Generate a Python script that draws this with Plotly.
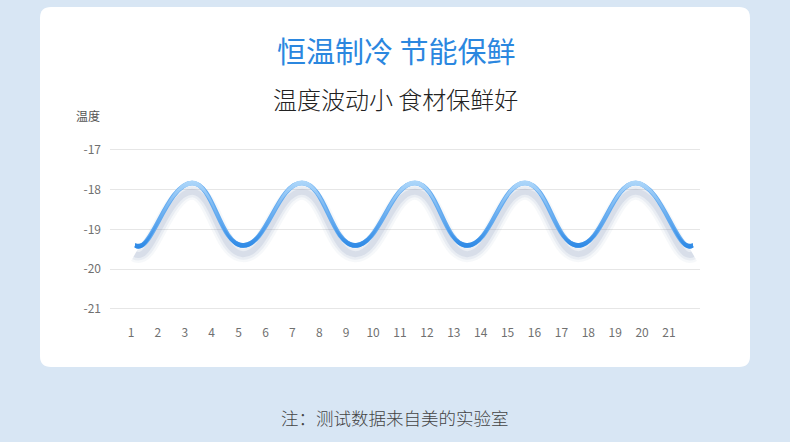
import plotly.graph_objects as go

# 横轴天数与温度读数（波峰 / 波谷）
days = list(range(1, 22))
temp_x = [1.15, 1.4, 3.27, 5.16, 7.36, 9.33, 11.56, 13.49, 15.65, 17.62, 19.77, 21.65, 21.89]
temp_y = [-19.4, -19.4, -17.83, -19.4, -17.83, -19.4, -17.83, -19.4, -17.83, -19.4, -17.83, -19.4, -19.4]
y_ticks = [-17, -18, -19, -20, -21]

FONT = "Noto Sans CJK SC"

# plot area in pixels
L, R, T, B = 110, 700, 130, 318


def px(x):
    return (x - L) / (R - L)


def py(y):
    return (B - y) / (B - T)


def rounded_rect(x0, y0, x1, y1, r):
    return (f"M {px(x0 + r)},{py(y0)} L {px(x1 - r)},{py(y0)} "
            f"Q {px(x1)},{py(y0)} {px(x1)},{py(y0 + r)} L {px(x1)},{py(y1 - r)} "
            f"Q {px(x1)},{py(y1)} {px(x1 - r)},{py(y1)} L {px(x0 + r)},{py(y1)} "
            f"Q {px(x0)},{py(y1)} {px(x0)},{py(y1 - r)} L {px(x0)},{py(y0 + r)} "
            f"Q {px(x0)},{py(y0)} {px(x0 + r)},{py(y0)} Z")


fig = go.Figure()

SM = 1.3

# shadow under the wave
shadow_y = [v - 0.22 for v in temp_y]
for w, a in [(16, 0.06), (11, 0.09), (6, 0.14)]:
    fig.add_scatter(x=temp_x, y=shadow_y, mode='lines',
                    line=dict(color=f'rgba(110,135,175,{a})', width=w, shape='spline', smoothing=SM),
                    hoverinfo='skip', showlegend=False)

# main line
fig.add_scatter(x=temp_x, y=temp_y, mode='lines',
                line=dict(color='#62aaf0', width=4.5, shape='spline', smoothing=SM),
                showlegend=False)

# gradient band over the line
d = 0.062
fig.add_scatter(x=temp_x, y=[v - d for v in temp_y], mode='lines',
                line=dict(width=0, shape='spline', smoothing=SM),
                hoverinfo='skip', showlegend=False)
fig.add_scatter(x=temp_x, y=[v + d for v in temp_y], mode='lines',
                line=dict(width=0, shape='spline', smoothing=SM), fill='tonexty',
                hoverinfo='skip', showlegend=False,
                fillgradient=dict(type='vertical', start=min(temp_y) - d, stop=max(temp_y) + d,
                                  colorscale=[[0, '#2d89e6'], [1, '#aed7fa']]))

fig.update_xaxes(range=[1 - 21 / 26.9, 21 + 31 / 26.9], tickvals=days,
                 ticktext=[str(v) for v in days], showgrid=False, zeroline=False,
                 showline=False, ticks='', ticklabelstandoff=6,
                 tickfont=dict(family=FONT, size=12, color='#707070'))
fig.update_yaxes(range=[-21.227, -16.497], tickvals=y_ticks,
                 ticktext=[str(v) for v in y_ticks], showgrid=True, gridcolor='#e6e6e6',
                 gridwidth=1, zeroline=False, showline=False, ticks='', ticklabelstandoff=8,
                 tickfont=dict(family=FONT, size=12, color='#707070'))

fig.add_shape(type='path', xref='paper', yref='paper', layer='below',
              path=rounded_rect(40, 7, 750, 367, 11), fillcolor='white', line=dict(width=0))


def label(text, x, y, size, color, weight=400):
    fig.add_annotation(text=text, x=px(x), y=py(y), xref='paper', yref='paper',
                       xanchor='center', yanchor='middle', showarrow=False,
                       font=dict(family=FONT, size=size, color=color, weight=weight))


label('恒温制冷 节能保鲜', 396, 50, 29, '#2b87df')
label('温度波动小 食材保鲜好', 395, 98, 24, '#222222', 300)
label('温度', 88, 115, 12, '#555555')
label('注：测试数据来自美的实验室', 395, 417, 17.5, '#444444', 300)

fig.update_layout(width=790, height=442, margin=dict(l=L, r=790 - R, t=T, b=442 - B),
                  paper_bgcolor='#d8e6f4', plot_bgcolor='rgba(0,0,0,0)', showlegend=False)

fig.write_html("out.html", config={'displayModeBar': False},
               post_script="document.body.style.margin='0';")
